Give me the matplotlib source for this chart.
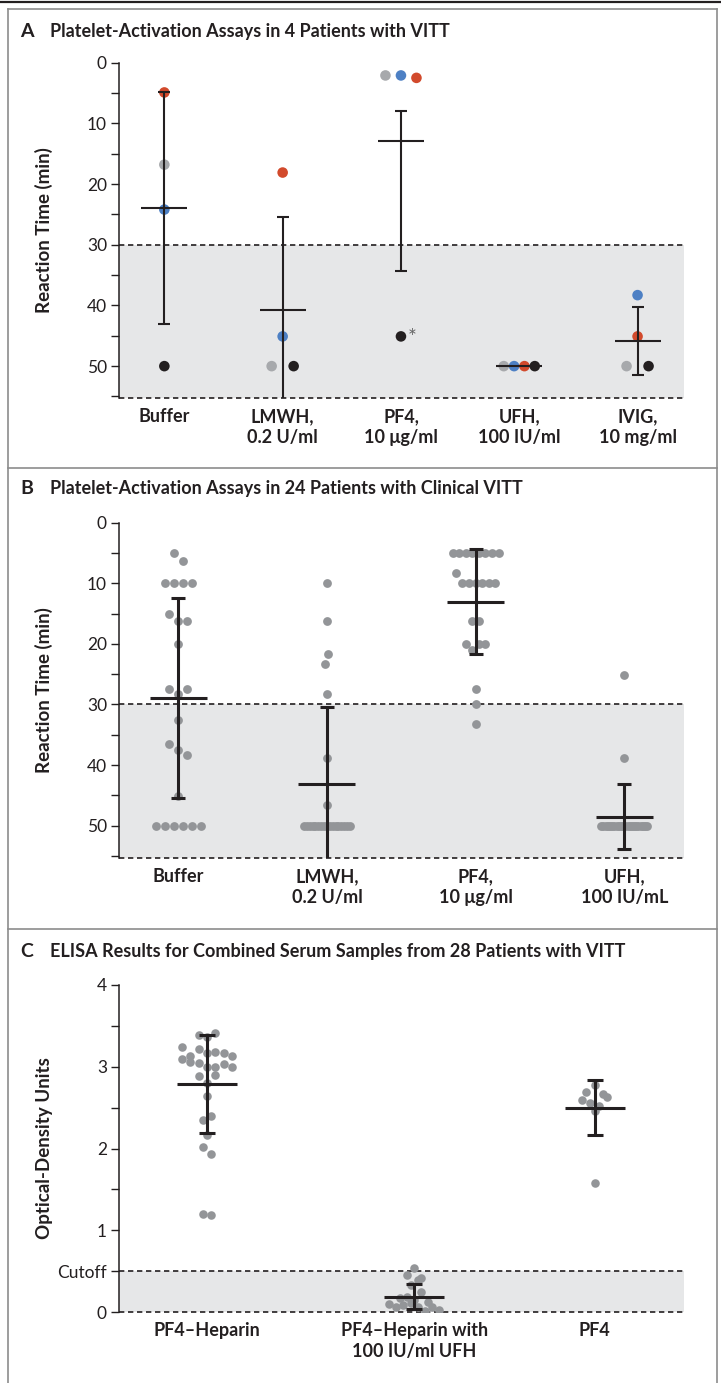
import numpy as np
import matplotlib
matplotlib.use("Agg")
import matplotlib.pyplot as plt
from matplotlib.lines import Line2D

plt.rcParams['font.family'] = ['Lato', 'DejaVu Sans']

# ---------------- data ----------------
# Panel A: 4 patients, reaction time (min) per condition
a_conds = ["Buffer", "LMWH,\n0.2 U/ml", "PF4,\n10 \u03bcg/ml", "UFH,\n100 IU/ml", "IVIG,\n10 mg/ml"]
a_gray = [16.8, 50, 2.1, 50, 50]
a_blue = [24.2, 45.1, 2.1, 50, 38.3]
a_red = [4.9, 18.1, 2.5, 50, 45.1]
a_black = [50, 50, 45.1, 50, 50]
a_mean = [23.9, 40.8, 12.9, 50, 45.8]
a_bar_top = [4.8, 25.4, 7.9, np.nan, 40.3]
a_bar_bot = [43.0, 56.1, 34.3, np.nan, 51.4]

# Panel B: 24 patients with clinical VITT
b_conds = ["Buffer", "LMWH,\n0.2 U/ml", "PF4,\n10 \u03bcg/ml", "UFH,\n100 IU/mL"]
b_buffer = [5.0, 6.3, 10, 10, 10, 10, 15.1, 16.3, 16.3, 20.1, 27.5, 28.3, 27.5,
            32.6, 36.6, 37.5, 38.4, 45.1, 50, 50, 50, 50, 50, 50]
b_lmwh = [10.0, 16.3, 23.4, 21.7, 28.3, 38.8, 46.6] + [50] * 17
b_pf4 = [5.0] * 8 + [8.35] + [10.0] * 6 + [16.3, 16.3, 20.1, 21.0, 20.1, 20.1,
                                             27.4, 30.0, 33.3]
b_ufh = [25.1, 38.8] + [50] * 22
b_mean = [28.9, 43.2, 13.1, 48.5]
b_bar_top = [12.5, 30.4, 4.35, 43.1]
b_bar_bot = [45.4, 56.0, 21.7, 53.9]

# Panel C: ELISA optical density
c_conds = ["PF4\u2013Heparin", "PF4\u2013Heparin with\n100 IU/ml UFH", "PF4"]
c_hep = [3.38, 3.36, 3.41,
         3.24, 3.13, 3.21, 3.16, 3.18, 3.17, 3.13,
         3.09, 3.06, 3.05, 3.00, 3.00, 3.03, 3.00,
         2.88, 2.80, 2.90, 2.64, 2.35, 2.40, 2.165, 2.02, 1.93, 1.20, 1.19]
c_hep_ufh = [0.46, 0.54, 0.415, 0.33, 0.39, 0.17, 0.19, 0.15, 0.25, 0.13,
             0.10, 0.07, 0.09, 0.11, 0.07, 0.01, 0.07, 0.03]
c_pf4 = [2.69, 2.775, 2.67, 2.59, 2.55, 2.52, 2.63, 2.46, 1.575]
c_mean = [2.79, 0.19, 2.50]
c_bar_top = [3.38, 0.345, 2.84]
c_bar_bot = [2.19, 0.04, 2.16]
c_pos = [0, 1, 1.87]
cutoff = 0.5
a_thresh = 30

# ---------------- style ----------------
INK = '#231f20'
GRAY_A = '#a7a9ac'
GRAY = '#939598'
RED = '#d24a2c'
BLUE = '#4d80c4'
SHADE = '#e6e7e8'
FRAME = '#8c8c8c'

W, H = 721, 1383
fig = plt.figure(figsize=(W / 100, H / 100), dpi=100)


def px_rect(x0, y0, x1, y1):
    return [x0 / W, 1 - y1 / H, (x1 - x0) / W, (y1 - y0) / H]


def swarm(vals, ppu, desc, smax, wmax, bin_px=11):
    # Prism-like spread: points grouped in rows, centred, in list order
    vals = np.asarray(vals, float)
    order = sorted(range(len(vals)), key=lambda i: (-vals[i] if desc else vals[i], i))
    rows = []
    for i in order:
        if rows and abs(vals[i] - vals[rows[-1][0]]) * ppu <= bin_px:
            rows[-1].append(i)
        else:
            rows.append([i])
    nmax = max(len(r) for r in rows)
    s = smax if nmax < 2 else min(smax, wmax / (nmax - 1))
    off = np.zeros(len(vals))
    for r in rows:
        r = sorted(r)
        for k, i in enumerate(r):
            off[i] = (k - (len(r) - 1) / 2) * s
    return off


def style_axis(ax):
    for sp in ['top', 'right', 'bottom']:
        ax.spines[sp].set_visible(False)
    ax.spines['left'].set_color(INK)
    ax.spines['left'].set_linewidth(1.1)
    ax.tick_params(axis='y', which='major', length=5.5, width=1.0, color=INK,
                   labelsize=12.5, pad=3, labelcolor=INK)
    ax.tick_params(axis='y', which='minor', length=5.5, width=1.0, color=INK)
    ax.tick_params(axis='x', length=0, pad=7)
    for t in ax.get_xticklabels():
        t.set_fontweight('bold')
        t.set_fontsize(13)
        t.set_linespacing(1.28)
        t.set_color(INK)


def stats(ax, x, mean, top, bot, ppx, half_mean, half_cap, lw):
    ax.hlines(mean, x - half_mean / ppx, x + half_mean / ppx, color=INK, lw=lw, zorder=5)
    if np.isnan(top):
        return
    ax.vlines(x, top, bot, color=INK, lw=lw, zorder=5)
    ax.hlines([top, bot], x - half_cap / ppx, x + half_cap / ppx, color=INK, lw=lw, zorder=5)


dash = (0, (3.2, 2.2))
YLAB = dict(fontsize=13.5, fontweight='bold', color=INK)

# ---------------- panel A ----------------
axA = fig.add_axes(px_rect(118.8, 62.7, 683.7, 398.3))
axA.set_xlim(-0.385, 4.39)
axA.set_ylim(55.3, 0)
ppx = 564.9 / (4.39 + 0.385)
ppy = 335.6 / 55.3
axA.axhspan(a_thresh, 55.3, color=SHADE, lw=0, zorder=0)
axA.axhline(a_thresh, color=INK, lw=1.2, ls=dash, zorder=1)
axA.axhline(55.3, color=INK, lw=1.2, ls=dash, zorder=1, clip_on=False)
colors = [GRAY_A, BLUE, RED, INK]
for j in range(len(a_conds)):
    vals = [a_gray[j], a_blue[j], a_red[j], a_black[j]]
    off = swarm(vals, ppy, False, 22, 31)
    axA.scatter(j + off / ppx, vals, s=58, c=colors, linewidths=0, zorder=3)
    stats(axA, j, a_mean[j], a_bar_top[j], a_bar_bot[j], ppx, 23, 6, 1.5)
axA.text(2 + 11 / ppx, 45.3, '*', fontsize=15, color='#666666', ha='center', va='center')
axA.set_yticks(range(0, 51, 10))
axA.set_yticks(range(5, 56, 10), minor=True)
axA.set_xticks(range(len(a_conds)), a_conds)
axA.set_ylabel('Reaction Time (min)', **YLAB)
axA.yaxis.set_label_coords(-0.1165, 0.5)
style_axis(axA)

# ---------------- panel B ----------------
axB = fig.add_axes(px_rect(118.8, 522.7, 683.7, 858.3))
axB.set_xlim(-0.40, 3.40)
axB.set_ylim(55.4, 0)
ppx = 564.9 / 3.80
ppy = 335.6 / 55.4
axB.axhspan(a_thresh, 55.4, color=SHADE, lw=0, zorder=0)
axB.axhline(a_thresh, color=INK, lw=1.2, ls=dash, zorder=1)
axB.axhline(55.4, color=INK, lw=1.2, ls=dash, zorder=1, clip_on=False)
for j, vals in enumerate([b_buffer, b_lmwh, b_pf4, b_ufh]):
    off = swarm(vals, ppy, False, 9, 46)
    axB.scatter(j + off / ppx, vals, s=40, color=GRAY, linewidths=0, zorder=3)
    stats(axB, j, b_mean[j], b_bar_top[j], b_bar_bot[j], ppx, 28.5, 7, 2.2)
axB.set_yticks(range(0, 51, 10))
axB.set_yticks(range(5, 56, 10), minor=True)
axB.set_xticks(range(len(b_conds)), b_conds)
axB.set_ylabel('Reaction Time (min)', **YLAB)
axB.yaxis.set_label_coords(-0.1165, 0.5)
style_axis(axB)

# ---------------- panel C ----------------
axC = fig.add_axes(px_rect(118.8, 984.7, 683.7, 1312.3))
axC.set_xlim(-0.425, 2.30)
axC.set_ylim(0, 4)
ppx = 564.9 / 2.725
ppy = 327.6 / 4
axC.axhspan(0, cutoff, color=SHADE, lw=0, zorder=0)
axC.axhline(cutoff, color=INK, lw=1.2, ls=dash, zorder=1)
axC.axhline(0, color=INK, lw=1.2, ls=dash, zorder=1, clip_on=False)
for j, vals in enumerate([c_hep, c_hep_ufh, c_pf4]):
    off = swarm(vals, ppy, True, 8.33, 50)
    axC.scatter(c_pos[j] + off / ppx, vals, s=38, color=GRAY, linewidths=0, zorder=3)
    stats(axC, c_pos[j], c_mean[j], c_bar_top[j], c_bar_bot[j], ppx, 30, 8, 2.2)
axC.set_yticks([0, cutoff, 1, 2, 3, 4], ['0', 'Cutoff', '1', '2', '3', '4'])
axC.set_yticks([1.5, 2.5, 3.5], minor=True)
axC.set_xticks(c_pos, c_conds)
axC.set_ylabel('Optical-Density Units', **YLAB)
axC.yaxis.set_label_coords(-0.1165, 0.5)
style_axis(axC)

# ---------------- titles and frames ----------------
titles = [(31.7, 'A', 'Platelet-Activation Assays in 4 Patients with VITT'),
          (489, 'B', 'Platelet-Activation Assays in 24 Patients with Clinical VITT'),
          (951.7, 'C', 'ELISA Results for Combined Serum Samples from 28 Patients with VITT')]
for y, letter, txt in titles:
    fig.text(20 / W, 1 - y / H, letter, fontsize=14, fontweight='bold', color=INK, va='center')
    fig.text(49.5 / W, 1 - y / H, txt, fontsize=13, fontweight='bold', color=INK, va='center')


def fline(xs, ys, color=FRAME, lw=1.2):
    fig.add_artist(Line2D([x / W for x in xs], [1 - y / H for y in ys],
                          transform=fig.transFigure, color=color, lw=lw))


fline([0, W], [2, 2], color=INK, lw=1.6)
fline([8.3, 717.3], [9, 9])
fline([8.3, 717.3], [468, 468])
fline([8.3, 717.3], [929, 929])
fline([8.3, 8.3], [9, H])
fline([717.3, 717.3], [9, H])

fig.savefig('out.png', dpi=100)
